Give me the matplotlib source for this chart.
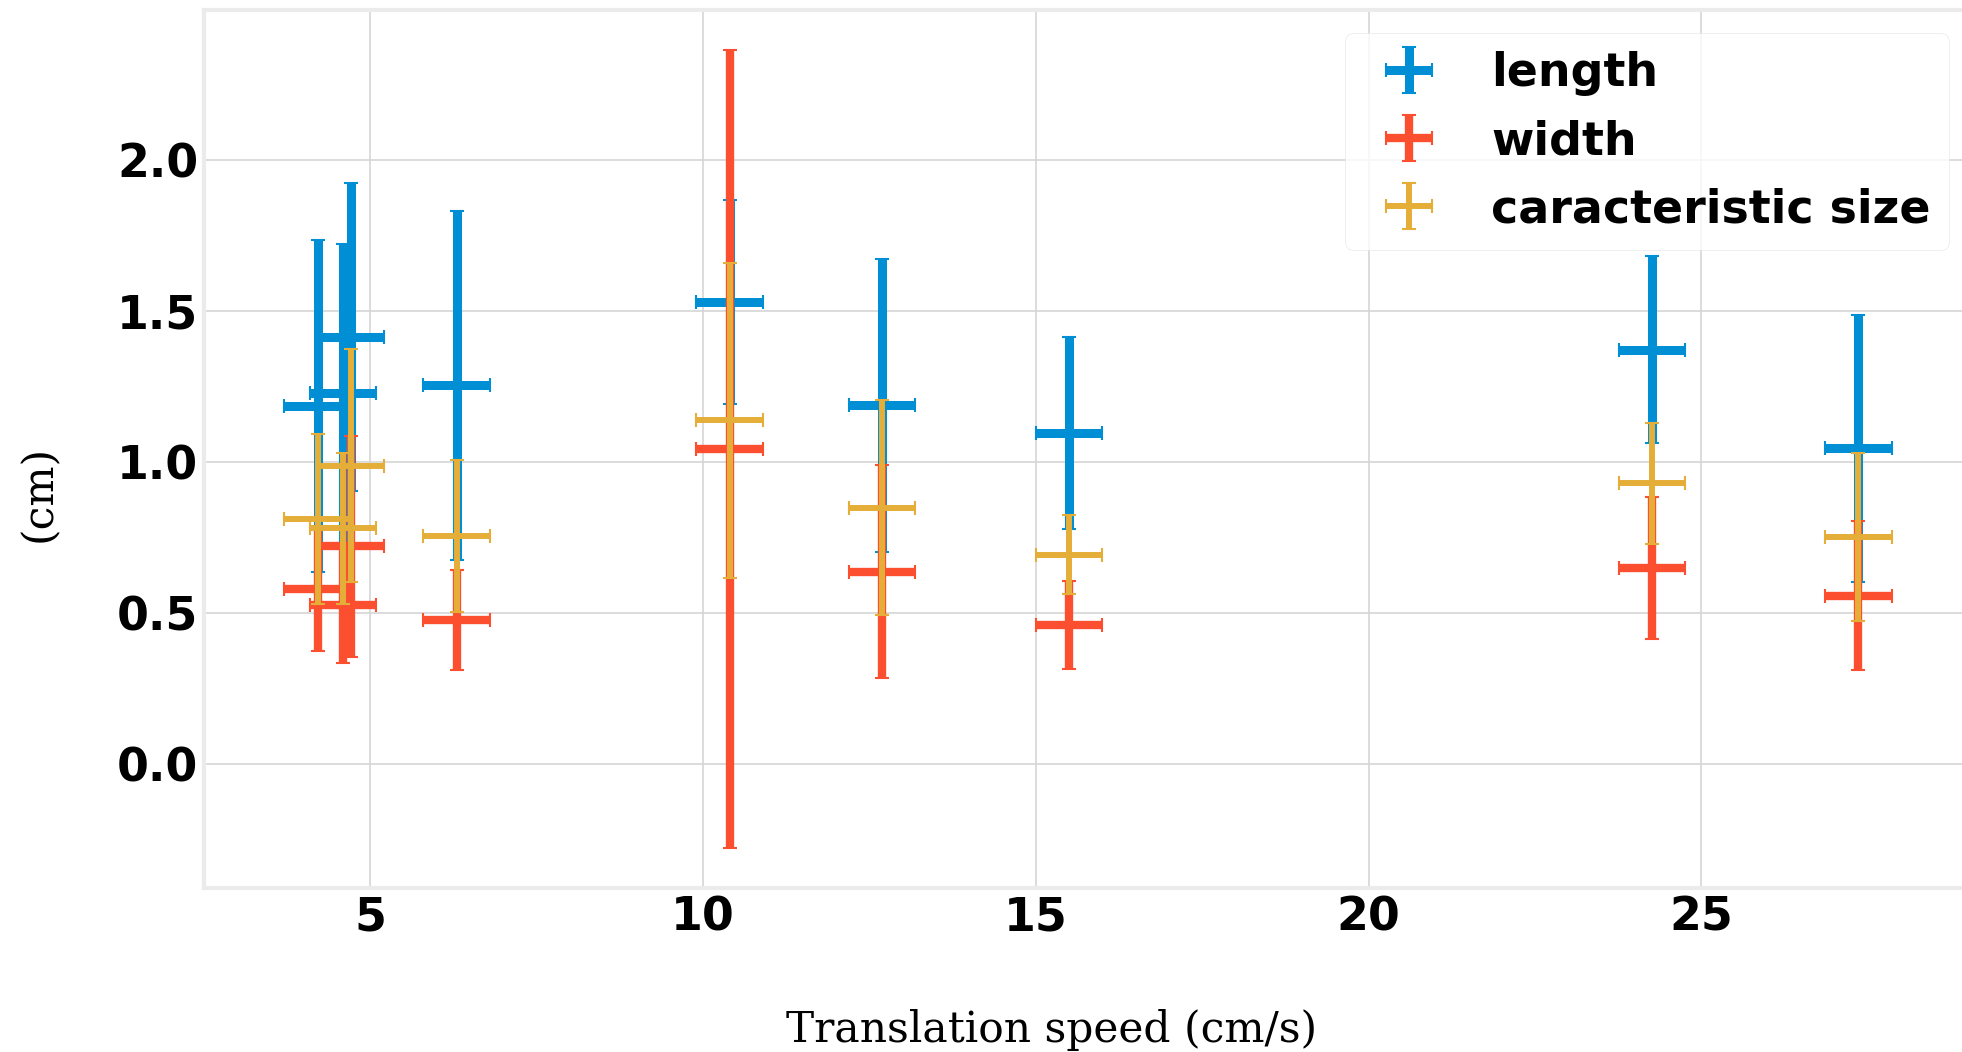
import numpy as np
import matplotlib.pyplot as plt

plt.style.use('fivethirtyeight')

# translation speed (cm/s) and measured sizes (cm)
speed = [4.21, 4.59, 4.71, 6.30, 10.40, 12.69, 15.50, 24.26, 27.36]
speed_err = [0.5, 0.5, 0.5, 0.5, 0.5, 0.5, 0.5, 0.5, 0.5]

length = [1.187, 1.229, 1.415, 1.255, 1.531, 1.188, 1.096, 1.373, 1.046]
length_err = [0.55, 0.495, 0.51, 0.578, 0.337, 0.485, 0.318, 0.31, 0.443]

width = [0.580, 0.529, 0.722, 0.479, 1.044, 0.638, 0.462, 0.650, 0.559]
width_err = [0.205, 0.193, 0.366, 0.166, 1.321, 0.353, 0.146, 0.236, 0.247]

car_size = [0.813, 0.782, 0.989, 0.756, 1.139, 0.850, 0.694, 0.930, 0.753]
car_size_err = [0.282, 0.25, 0.385, 0.252, 0.522, 0.355, 0.13, 0.2, 0.277]

fs = 33

fig = plt.figure(figsize=(19.62, 10.52), dpi=100, facecolor='white')
ax = fig.add_axes([204/1962, (1052-888)/1052, 1768/1962, 878/1052])
ax.set_facecolor('white')

ax.errorbar(speed, length, yerr=length_err, xerr=speed_err, fmt='none',
            ecolor='#008fd5', elinewidth=6.5, capsize=5, capthick=1.5,
            label='length')
ax.errorbar(speed, width, yerr=width_err, xerr=speed_err, fmt='none',
            ecolor='#fc4f30', elinewidth=6, capsize=5, capthick=1.5,
            label='width')
ax.errorbar(speed, car_size, yerr=car_size_err, xerr=speed_err, fmt='none',
            ecolor='#e5ae38', elinewidth=4.3, capsize=5, capthick=1.5,
            label='caracteristic size')

for s in ax.spines.values():
    s.set_color('#ebebeb')
    s.set_linewidth(3)

ax.grid(True, color='#d5d5d5', linewidth=1.2)
ax.set_axisbelow(True)
ax.tick_params(axis='both', length=0, labelsize=fs)
ax.tick_params(axis='x', pad=5.5)
ax.tick_params(axis='y', pad=4)
for lab in ax.get_xticklabels() + ax.get_yticklabels():
    lab.set_fontweight('bold')

ax.set_xlabel('Translation speed (cm/s)', family='DejaVu Serif', fontsize=30.5)
ax.set_ylabel('(cm)', family='DejaVu Serif', fontsize=30.5)
ax.xaxis.set_label_coords(0.4796, -0.162)
ax.xaxis.label.set_va('center')
ax.yaxis.set_label_coords(-0.0933, 0.4497)
ax.yaxis.label.set_va('center')

leg = ax.legend(loc='upper right', prop={'weight': 'bold', 'size': fs},
                labelspacing=0.5, handletextpad=0.8, fancybox=True,
                framealpha=0.8, facecolor='white', edgecolor='#e3e3e3')

fig.savefig('out.png', dpi=100, facecolor='white')
